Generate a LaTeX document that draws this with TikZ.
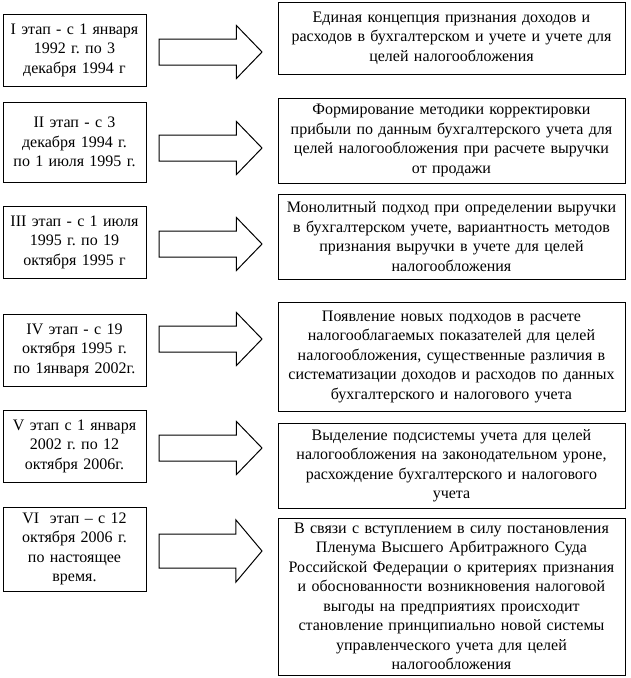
\documentclass[tikz,border=0pt]{standalone}
\usepackage{fontspec}
\setmainfont{Liberation Serif}
\usepackage{tikz}
\usetikzlibrary{positioning,shapes.arrows}
\frenchspacing

\begin{document}
\begin{tikzpicture}[x=1pt,y=-1pt,
  font=\fontsize{16}{19.5}\selectfont,
  stage/.style={draw,line width=1pt,text width=137pt,inner xsep=3pt,inner ysep=2pt,align=center},
  result/.style={draw,line width=1pt,text width=339pt,inner xsep=4pt,inner ysep=2pt,align=center},
  blockarrow/.style={single arrow,draw,line width=1pt,minimum height=103pt,inner sep=0pt,
     inner ysep=12.5pt,single arrow head extend=13.5pt,single arrow tip angle=92}
]
\useasboundingbox (0,0) rectangle (630,678);
\node[stage,minimum height=72pt] (s1) at (74.5,50) {I этап - с 1 января\\ 1992 г. по 3\\ декабря 1994 г};
\node[stage,minimum height=80pt] (s2) at (74.5,142) {II этап - с 3\\ декабря 1994 г.\\ по 1 июля 1995 г.};
\node[stage,minimum height=72pt] (s3) at (74.5,242) {III этап - с 1 июля\\ 1995 г. по 19\\ октября 1995 г};
\node[stage,minimum height=72pt] (s4) at (74.5,350) {IV этап - с 19\\ октября 1995 г.\\ по 1января 2002г.};
\node[stage,minimum height=72pt] (s5) at (74.5,446) {V этап с 1 января\\ 2002 г. по 12\\ октября 2006г.};
\node[stage,minimum height=84pt] (s6) at (74.5,549) {VI\ \ этап -- с 12\\ октября 2006 г.\\ по настоящее\\ время.};
\node[result,minimum height=72pt] (r1) at (451.5,38) {Единая концепция признания доходов и\\ расходов в бухгалтерском и учете и учете для\\ целей налогообложения};
\node[result,minimum height=85pt] (r2) at (451.5,140.5) {Формирование методики корректировки\\ прибыли по данным бухгалтерского учета для\\ целей налогообложения при расчете выручки\\ от продажи};
\node[result,minimum height=85pt] (r3) at (451.5,236.5) {Монолитный подход при определении выручки\\ в бухгалтерском учете, вариантность методов\\ признания выручки в учете для целей\\ налогообложения};
\node[result,minimum height=109pt] (r4) at (451.5,356.5) {Появление новых подходов в расчете\\ налогооблагаемых показателей для целей\\ налогообложения, существенные различия в\\ систематизации доходов и расходов по данных\\ бухгалтерского и налогового учета};
\node[result,minimum height=85pt] (r5) at (451.5,465.5) {Выделение подсистемы учета для целей\\ налогообложения на законодательном уроне,\\ расхождение бухгалтерского и налогового\\ учета};
\node[result,minimum height=157pt] (r6) at (451.5,596.5) {В связи с вступлением в силу постановления\\ Пленума Высшего Арбитражного Суда\\ Российской Федерации о критериях признания\\ и обоснованности возникновения налоговой\\ выгоды на предприятиях происходит\\ становление принципиально новой системы\\ управленческого учета для целей\\ налогообложения};
\node[blockarrow,right=12pt of s1,yshift=-2pt] (a1) {};
\node[blockarrow,right=12pt of s2,yshift=-6pt] (a2) {};
\node[blockarrow,right=12pt of s3,yshift=-2pt] (a3) {};
\node[blockarrow,right=12pt of s4,yshift=11pt] (a4) {};
\node[blockarrow,right=12pt of s5,yshift=-2pt] (a5) {};
\node[blockarrow,right=12pt of s6,yshift=-2pt,inner ysep=16.5pt,single arrow head extend=14pt,single arrow tip angle=100] (a6) {};
\end{tikzpicture}
\end{document}
